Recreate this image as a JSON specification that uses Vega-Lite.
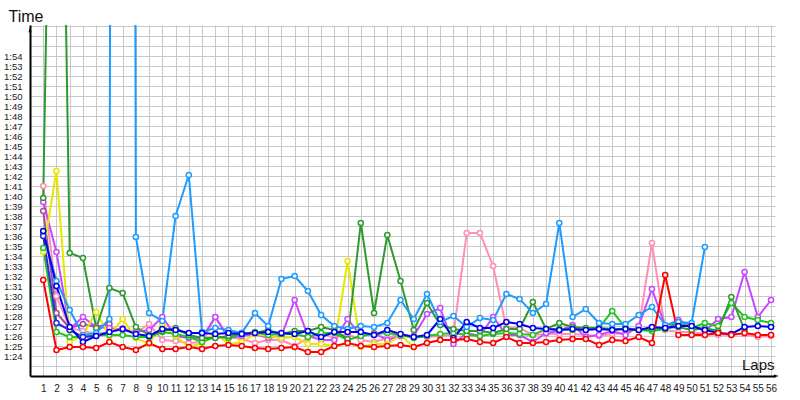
{
"$schema": "https://vega.github.io/schema/vega-lite/v6.json",
"width": 745, "height": 351,
"autosize": {"type": "none"},
"padding": {"left": 30, "top": 25, "right": 25, "bottom": 24},
"background": "white",
"config": {"view": {"stroke": null}, "font": "Liberation Sans"},
"datasets": {"laps": [
{"s":"purple","l":1,"t":98.5},{"s":"purple","l":2,"t":88.3},{"s":"purple","l":3,"t":86.8},{"s":"purple","l":4,"t":87.2},{"s":"purple","l":5,"t":86.9},{"s":"purple","l":6,"t":87.2},
{"s":"pink","l":1,"t":101.0},{"s":"pink","l":2,"t":90.0},{"s":"pink","l":3,"t":86.8},{"s":"pink","l":4,"t":86.5},{"s":"pink","l":5,"t":86.2},{"s":"pink","l":6,"t":86.4},{"s":"pink","l":7,"t":86.8},{"s":"pink","l":8,"t":86.3},{"s":"pink","l":9,"t":87.2},{"s":"pink","l":10,"t":85.6},{"s":"pink","l":11,"t":85.5},{"s":"pink","l":12,"t":85.3},{"s":"pink","l":13,"t":85.4},{"s":"pink","l":14,"t":87.9},{"s":"pink","l":15,"t":85.9},{"s":"pink","l":16,"t":85.7},{"s":"pink","l":17,"t":85.3},{"s":"pink","l":18,"t":85.6},{"s":"pink","l":19,"t":85.6},{"s":"pink","l":20,"t":85.0},{"s":"pink","l":21,"t":85.8},{"s":"pink","l":22,"t":86.3},{"s":"pink","l":23,"t":85.8},{"s":"pink","l":24,"t":86.2},{"s":"pink","l":25,"t":85.6},{"s":"pink","l":26,"t":85.4},{"s":"pink","l":27,"t":85.8},{"s":"pink","l":28,"t":86.2},{"s":"pink","l":29,"t":85.9},{"s":"pink","l":30,"t":85.9},{"s":"pink","l":31,"t":86.0},{"s":"pink","l":32,"t":86.1},{"s":"pink","l":33,"t":96.3},{"s":"pink","l":34,"t":96.3},{"s":"pink","l":35,"t":93.0},{"s":"pink","l":36,"t":86.8},{"s":"pink","l":37,"t":86.8},{"s":"pink","l":38,"t":86.1},{"s":"pink","l":39,"t":86.2},{"s":"pink","l":40,"t":86.2},{"s":"pink","l":41,"t":86.2},{"s":"pink","l":42,"t":86.1},{"s":"pink","l":43,"t":86.0},{"s":"pink","l":44,"t":86.2},{"s":"pink","l":45,"t":86.3},{"s":"pink","l":46,"t":86.8},{"s":"pink","l":47,"t":95.3},{"s":"pink","l":48,"t":86.6},{"s":"pink","l":49,"t":86.4},{"s":"pink","l":50,"t":86.4},{"s":"pink","l":51,"t":86.2},{"s":"pink","l":52,"t":86.1},{"s":"pink","l":53,"t":86.2},{"s":"pink","l":54,"t":86.2},{"s":"pink","l":55,"t":85.9},{"s":"pink","l":56,"t":86.0},
{"s":"violet","l":1,"t":99.4},{"s":"violet","l":2,"t":94.4},{"s":"violet","l":3,"t":86.7},{"s":"violet","l":4,"t":87.9},{"s":"violet","l":5,"t":86.9},{"s":"violet","l":6,"t":86.8},{"s":"violet","l":7,"t":86.6},{"s":"violet","l":8,"t":86.4},{"s":"violet","l":9,"t":86.6},{"s":"violet","l":10,"t":87.9},{"s":"violet","l":11,"t":86.0},{"s":"violet","l":12,"t":85.8},{"s":"violet","l":13,"t":85.8},{"s":"violet","l":14,"t":87.9},{"s":"violet","l":15,"t":85.8},{"s":"violet","l":16,"t":86.0},{"s":"violet","l":17,"t":86.2},{"s":"violet","l":18,"t":85.8},{"s":"violet","l":19,"t":86.0},{"s":"violet","l":20,"t":89.6},{"s":"violet","l":21,"t":86.0},{"s":"violet","l":22,"t":85.6},{"s":"violet","l":23,"t":85.6},{"s":"violet","l":24,"t":87.7},{"s":"violet","l":25,"t":86.0},{"s":"violet","l":26,"t":86.3},{"s":"violet","l":27,"t":85.6},{"s":"violet","l":28,"t":86.0},{"s":"violet","l":29,"t":86.0},{"s":"violet","l":30,"t":88.2},{"s":"violet","l":31,"t":88.8},{"s":"violet","l":32,"t":85.2},{"s":"violet","l":33,"t":86.3},{"s":"violet","l":34,"t":86.0},{"s":"violet","l":35,"t":87.9},{"s":"violet","l":36,"t":86.1},{"s":"violet","l":37,"t":86.1},{"s":"violet","l":38,"t":85.4},{"s":"violet","l":39,"t":86.3},{"s":"violet","l":40,"t":86.5},{"s":"violet","l":41,"t":87.1},{"s":"violet","l":42,"t":85.9},{"s":"violet","l":43,"t":86.1},{"s":"violet","l":44,"t":86.5},{"s":"violet","l":45,"t":86.1},{"s":"violet","l":46,"t":87.0},{"s":"violet","l":47,"t":90.7},{"s":"violet","l":48,"t":87.0},{"s":"violet","l":49,"t":87.6},{"s":"violet","l":50,"t":87.0},{"s":"violet","l":51,"t":86.5},{"s":"violet","l":52,"t":87.7},{"s":"violet","l":53,"t":87.9},{"s":"violet","l":54,"t":92.4},{"s":"violet","l":55,"t":87.9},{"s":"violet","l":56,"t":89.6},
{"s":"yellow","l":1,"t":94.4},{"s":"yellow","l":2,"t":102.5},{"s":"yellow","l":3,"t":85.4},{"s":"yellow","l":4,"t":86.1},{"s":"yellow","l":5,"t":88.4},{"s":"yellow","l":6,"t":86.0},{"s":"yellow","l":7,"t":87.7},{"s":"yellow","l":8,"t":85.8},{"s":"yellow","l":9,"t":85.2},{"s":"yellow","l":10,"t":87.2},{"s":"yellow","l":11,"t":86.0},{"s":"yellow","l":12,"t":84.9},{"s":"yellow","l":13,"t":85.3},{"s":"yellow","l":14,"t":86.3},{"s":"yellow","l":15,"t":85.2},{"s":"yellow","l":16,"t":85.4},{"s":"yellow","l":17,"t":86.2},{"s":"yellow","l":18,"t":86.0},{"s":"yellow","l":19,"t":85.8},{"s":"yellow","l":20,"t":85.9},{"s":"yellow","l":21,"t":85.2},{"s":"yellow","l":22,"t":85.2},{"s":"yellow","l":23,"t":85.0},{"s":"yellow","l":24,"t":93.5},{"s":"yellow","l":25,"t":84.9},{"s":"yellow","l":26,"t":85.2},{"s":"yellow","l":27,"t":85.2},{"s":"yellow","l":28,"t":86.1},{"s":"yellow","l":29,"t":84.9},
{"s":"green","l":1,"t":94.8},{"s":"green","l":2,"t":86.4},{"s":"green","l":3,"t":85.9},{"s":"green","l":4,"t":85.9},{"s":"green","l":5,"t":86.1},{"s":"green","l":6,"t":86.1},{"s":"green","l":7,"t":86.1},{"s":"green","l":8,"t":85.9},{"s":"green","l":9,"t":85.9},{"s":"green","l":10,"t":86.4},{"s":"green","l":11,"t":86.2},{"s":"green","l":12,"t":85.9},{"s":"green","l":13,"t":85.4},{"s":"green","l":14,"t":85.9},{"s":"green","l":15,"t":85.8},{"s":"green","l":16,"t":86.2},{"s":"green","l":17,"t":86.4},{"s":"green","l":18,"t":86.1},{"s":"green","l":19,"t":86.2},{"s":"green","l":20,"t":86.2},{"s":"green","l":21,"t":85.9},{"s":"green","l":22,"t":86.3},{"s":"green","l":23,"t":86.3},{"s":"green","l":24,"t":85.6},{"s":"green","l":25,"t":86.0},{"s":"green","l":26,"t":86.2},{"s":"green","l":27,"t":86.3},{"s":"green","l":28,"t":86.1},{"s":"green","l":29,"t":85.8},{"s":"green","l":30,"t":86.0},{"s":"green","l":31,"t":86.2},{"s":"green","l":32,"t":86.3},{"s":"green","l":33,"t":86.1},{"s":"green","l":34,"t":86.0},{"s":"green","l":35,"t":86.2},{"s":"green","l":36,"t":86.3},{"s":"green","l":37,"t":86.2},{"s":"green","l":38,"t":86.1},{"s":"green","l":39,"t":86.7},{"s":"green","l":40,"t":86.7},{"s":"green","l":41,"t":86.6},{"s":"green","l":42,"t":86.7},{"s":"green","l":43,"t":86.8},{"s":"green","l":44,"t":88.5},{"s":"green","l":45,"t":86.8},{"s":"green","l":46,"t":86.6},{"s":"green","l":47,"t":86.5},{"s":"green","l":48,"t":86.7},{"s":"green","l":49,"t":87.4},{"s":"green","l":50,"t":86.8},{"s":"green","l":51,"t":87.3},{"s":"green","l":52,"t":87.0},{"s":"green","l":53,"t":89.3},{"s":"green","l":54,"t":87.9},{"s":"green","l":55,"t":87.6},{"s":"green","l":56,"t":87.3},
{"s":"darkgreen","l":1,"t":99.8},{"s":"darkgreen","l":2,"t":177},{"s":"darkgreen","l":3,"t":94.3},{"s":"darkgreen","l":4,"t":93.8},{"s":"darkgreen","l":5,"t":86.8},{"s":"darkgreen","l":6,"t":90.8},{"s":"darkgreen","l":7,"t":90.3},{"s":"darkgreen","l":8,"t":86.9},{"s":"darkgreen","l":9,"t":86.1},{"s":"darkgreen","l":10,"t":86.5},{"s":"darkgreen","l":11,"t":86.8},{"s":"darkgreen","l":12,"t":86.1},{"s":"darkgreen","l":13,"t":85.8},{"s":"darkgreen","l":14,"t":85.8},{"s":"darkgreen","l":15,"t":86.0},{"s":"darkgreen","l":16,"t":86.3},{"s":"darkgreen","l":17,"t":86.3},{"s":"darkgreen","l":18,"t":86.6},{"s":"darkgreen","l":19,"t":86.2},{"s":"darkgreen","l":20,"t":86.5},{"s":"darkgreen","l":21,"t":86.5},{"s":"darkgreen","l":22,"t":86.9},{"s":"darkgreen","l":23,"t":86.6},{"s":"darkgreen","l":24,"t":85.7},{"s":"darkgreen","l":25,"t":97.3},{"s":"darkgreen","l":26,"t":88.3},{"s":"darkgreen","l":27,"t":96.1},{"s":"darkgreen","l":28,"t":91.5},{"s":"darkgreen","l":29,"t":86.6},{"s":"darkgreen","l":30,"t":89.3},{"s":"darkgreen","l":31,"t":87.1},{"s":"darkgreen","l":32,"t":86.7},{"s":"darkgreen","l":33,"t":86.5},{"s":"darkgreen","l":34,"t":86.5},{"s":"darkgreen","l":35,"t":86.3},{"s":"darkgreen","l":36,"t":86.7},{"s":"darkgreen","l":37,"t":86.7},{"s":"darkgreen","l":38,"t":89.4},{"s":"darkgreen","l":39,"t":86.7},{"s":"darkgreen","l":40,"t":87.3},{"s":"darkgreen","l":41,"t":86.9},{"s":"darkgreen","l":42,"t":86.8},{"s":"darkgreen","l":43,"t":86.8},{"s":"darkgreen","l":44,"t":86.7},{"s":"darkgreen","l":45,"t":86.7},{"s":"darkgreen","l":46,"t":86.6},{"s":"darkgreen","l":47,"t":86.7},{"s":"darkgreen","l":48,"t":86.8},{"s":"darkgreen","l":49,"t":86.9},{"s":"darkgreen","l":50,"t":86.6},{"s":"darkgreen","l":51,"t":86.8},{"s":"darkgreen","l":52,"t":86.5},{"s":"darkgreen","l":53,"t":89.9},{"s":"darkgreen","l":54,"t":86.6},
{"s":"lightblue","l":1,"t":96.2},{"s":"lightblue","l":2,"t":91.5},{"s":"lightblue","l":3,"t":88.6},{"s":"lightblue","l":4,"t":86.1},{"s":"lightblue","l":5,"t":86.3},{"s":"lightblue","l":6,"t":87.7},{"s":"lightblue","l":7,"t":700},{"s":"lightblue","l":8,"t":95.9},{"s":"lightblue","l":9,"t":88.3},{"s":"lightblue","l":10,"t":87.5},{"s":"lightblue","l":11,"t":98.0},{"s":"lightblue","l":12,"t":102.1},{"s":"lightblue","l":13,"t":86.4},{"s":"lightblue","l":14,"t":86.8},{"s":"lightblue","l":15,"t":86.6},{"s":"lightblue","l":16,"t":86.3},{"s":"lightblue","l":17,"t":88.3},{"s":"lightblue","l":18,"t":87.0},{"s":"lightblue","l":19,"t":91.7},{"s":"lightblue","l":20,"t":92.0},{"s":"lightblue","l":21,"t":90.5},{"s":"lightblue","l":22,"t":88.1},{"s":"lightblue","l":23,"t":87.0},{"s":"lightblue","l":24,"t":86.7},{"s":"lightblue","l":25,"t":87.0},{"s":"lightblue","l":26,"t":86.9},{"s":"lightblue","l":27,"t":87.3},{"s":"lightblue","l":28,"t":89.6},{"s":"lightblue","l":29,"t":87.7},{"s":"lightblue","l":30,"t":90.2},{"s":"lightblue","l":31,"t":87.4},{"s":"lightblue","l":32,"t":88.0},{"s":"lightblue","l":33,"t":86.9},{"s":"lightblue","l":34,"t":87.8},{"s":"lightblue","l":35,"t":87.6},{"s":"lightblue","l":36,"t":90.2},{"s":"lightblue","l":37,"t":89.7},{"s":"lightblue","l":38,"t":88.3},{"s":"lightblue","l":39,"t":89.2},{"s":"lightblue","l":40,"t":97.3},{"s":"lightblue","l":41,"t":87.9},{"s":"lightblue","l":42,"t":88.7},{"s":"lightblue","l":43,"t":87.3},{"s":"lightblue","l":44,"t":87.2},{"s":"lightblue","l":45,"t":87.2},{"s":"lightblue","l":46,"t":88.1},{"s":"lightblue","l":47,"t":88.9},{"s":"lightblue","l":48,"t":87.1},{"s":"lightblue","l":49,"t":87.4},{"s":"lightblue","l":50,"t":87.3},{"s":"lightblue","l":51,"t":94.9},
{"s":"blue2","l":1,"t":96.0},{"s":"blue2","l":2,"t":87.3},{"s":"blue2","l":3,"t":86.6},{"s":"blue2","l":4,"t":85.9},{"s":"blue2","l":5,"t":86.0},
{"s":"blue","l":1,"t":96.5},{"s":"blue","l":2,"t":91.0},{"s":"blue","l":3,"t":86.9},{"s":"blue","l":4,"t":85.4},{"s":"blue","l":5,"t":86.0},{"s":"blue","l":6,"t":86.4},{"s":"blue","l":7,"t":86.7},{"s":"blue","l":8,"t":86.2},{"s":"blue","l":9,"t":86.0},{"s":"blue","l":10,"t":86.7},{"s":"blue","l":11,"t":86.6},{"s":"blue","l":12,"t":86.3},{"s":"blue","l":13,"t":86.3},{"s":"blue","l":14,"t":86.2},{"s":"blue","l":15,"t":86.3},{"s":"blue","l":16,"t":86.2},{"s":"blue","l":17,"t":86.3},{"s":"blue","l":18,"t":86.4},{"s":"blue","l":19,"t":86.3},{"s":"blue","l":20,"t":86.2},{"s":"blue","l":21,"t":86.5},{"s":"blue","l":22,"t":85.9},{"s":"blue","l":23,"t":86.4},{"s":"blue","l":24,"t":86.4},{"s":"blue","l":25,"t":86.4},{"s":"blue","l":26,"t":86.1},{"s":"blue","l":27,"t":86.6},{"s":"blue","l":28,"t":86.2},{"s":"blue","l":29,"t":85.9},{"s":"blue","l":30,"t":86.1},{"s":"blue","l":31,"t":87.7},{"s":"blue","l":32,"t":85.8},{"s":"blue","l":33,"t":87.4},{"s":"blue","l":34,"t":86.8},{"s":"blue","l":35,"t":86.8},{"s":"blue","l":36,"t":87.4},{"s":"blue","l":37,"t":87.2},{"s":"blue","l":38,"t":86.8},{"s":"blue","l":39,"t":86.7},{"s":"blue","l":40,"t":86.6},{"s":"blue","l":41,"t":86.7},{"s":"blue","l":42,"t":86.6},{"s":"blue","l":43,"t":86.7},{"s":"blue","l":44,"t":86.6},{"s":"blue","l":45,"t":86.7},{"s":"blue","l":46,"t":86.6},{"s":"blue","l":47,"t":86.9},{"s":"blue","l":48,"t":86.8},{"s":"blue","l":49,"t":87.0},{"s":"blue","l":50,"t":87.0},{"s":"blue","l":51,"t":86.6},{"s":"blue","l":52,"t":86.3},{"s":"blue","l":53,"t":86.2},{"s":"blue","l":54,"t":86.9},{"s":"blue","l":55,"t":87.0},{"s":"blue","l":56,"t":86.9},
{"s":"red","l":1,"t":91.6},{"s":"red","l":2,"t":84.6},{"s":"red","l":3,"t":84.9},{"s":"red","l":4,"t":84.9},{"s":"red","l":5,"t":84.8},{"s":"red","l":6,"t":85.4},{"s":"red","l":7,"t":84.9},{"s":"red","l":8,"t":84.6},{"s":"red","l":9,"t":85.3},{"s":"red","l":10,"t":84.7},{"s":"red","l":11,"t":84.7},{"s":"red","l":12,"t":84.9},{"s":"red","l":13,"t":84.7},{"s":"red","l":14,"t":85.0},{"s":"red","l":15,"t":85.1},{"s":"red","l":16,"t":85.0},{"s":"red","l":17,"t":84.8},{"s":"red","l":18,"t":84.7},{"s":"red","l":19,"t":84.8},{"s":"red","l":20,"t":84.9},{"s":"red","l":21,"t":84.4},{"s":"red","l":22,"t":84.4},{"s":"red","l":23,"t":85.0},{"s":"red","l":24,"t":85.3},{"s":"red","l":25,"t":85.0},{"s":"red","l":26,"t":84.9},{"s":"red","l":27,"t":85.0},{"s":"red","l":28,"t":85.1},{"s":"red","l":29,"t":84.9},{"s":"red","l":30,"t":85.3},{"s":"red","l":31,"t":85.6},{"s":"red","l":32,"t":85.6},{"s":"red","l":33,"t":85.7},{"s":"red","l":34,"t":85.4},{"s":"red","l":35,"t":85.3},{"s":"red","l":36,"t":85.9},{"s":"red","l":37,"t":85.3},{"s":"red","l":38,"t":85.3},{"s":"red","l":39,"t":85.4},{"s":"red","l":40,"t":85.6},{"s":"red","l":41,"t":85.7},{"s":"red","l":42,"t":85.7},{"s":"red","l":43,"t":85.1},{"s":"red","l":44,"t":85.6},{"s":"red","l":45,"t":85.5},{"s":"red","l":46,"t":85.9},{"s":"red","l":47,"t":85.3},{"s":"red","l":48,"t":92.1},{"s":"red","l":49,"t":86.1},{"s":"red","l":50,"t":86.1},{"s":"red","l":51,"t":86.1},{"s":"red","l":52,"t":86.3},{"s":"red","l":53,"t":86.1},{"s":"red","l":54,"t":86.3},{"s":"red","l":55,"t":86.1},{"s":"red","l":56,"t":86.1}
]},
"layer": [
{"data": {"name": "laps"},
 "mark": {"type": "line", "strokeWidth": 2, "clip": true},
 "encoding": {
  "x": {"field": "l", "type": "quantitative", "scale": {"domain": [0, 56.3], "nice": false, "zero": false},
   "axis": {"values": [1,2,3,4,5,6,7,8,9,10,11,12,13,14,15,16,17,18,19,20,21,22,23,24,25,26,27,28,29,30,31,32,33,34,35,36,37,38,39,40,41,42,43,44,45,46,47,48,49,50,51,52,53,54,55,56],
    "tickCount": 100, "format": "d",
    "grid": true, "gridColor": "#c8c8c8", "gridWidth": 1, "ticks": false, "domainColor": "#000000", "domainWidth": 2,
    "labelFont": "Liberation Sans", "labelFontSize": 10, "labelColor": "#222222", "labelPadding": 7, "labelOverlap": false, "labelFlush": false,
    "title": "Laps", "titleX": 744, "titleY": -7, "titleAlign": "right", "titleBaseline": "alphabetic", "titleFont": "Liberation Sans", "titleFontSize": 15, "titleFontWeight": "normal", "titleColor": "#111111"}},
  "y": {"field": "t", "type": "quantitative", "scale": {"domain": [82, 117.1], "nice": false, "zero": false},
   "axis": {"values": [82,83,84,85,86,87,88,89,90,91,92,93,94,95,96,97,98,99,100,101,102,103,104,105,106,107,108,109,110,111,112,113,114,115,116,117],
    "tickCount": 100,
    "grid": true, "gridColor": "#c8c8c8", "gridWidth": 1, "ticks": false, "domainColor": "#000000", "domainWidth": 2,
    "labelExpr": "datum.value >= 84 && datum.value <= 114 ? '1:' + (datum.value - 60) : ''",
    "labelFont": "Liberation Sans", "labelFontSize": 9.5, "labelColor": "#222222", "labelPadding": 8, "labelOverlap": false,
    "title": "Time", "titleAngle": 0, "titleX": -22, "titleY": -4, "titleAlign": "left", "titleBaseline": "alphabetic", "titleFont": "Liberation Sans", "titleFontSize": 16, "titleFontWeight": "normal", "titleColor": "#111111"}},
  "color": {"field": "s", "type": "nominal", "legend": null,
   "scale": {"domain": ["purple","pink","violet","yellow","green","darkgreen","lightblue","blue2","blue","red"],
    "range": ["#a050a0","#ff8fb4","#c848ff","#e6e600","#22c422","#2e9a2e","#1e9bff","#2a2ad8","#0000f0","#ff0000"]}}
 }},
{"data": {"name": "laps"},
 "mark": {"type": "point", "shape": "circle", "filled": false, "fill": "white", "fillOpacity": 1, "opacity": 1, "size": 26, "strokeWidth": 1.5, "clip": true},
 "encoding": {
  "x": {"field": "l", "type": "quantitative"},
  "y": {"field": "t", "type": "quantitative"},
  "color": {"field": "s", "type": "nominal", "legend": null}
 }},
{"data": {"values": [{}]},
 "mark": {"type": "point", "shape": "M0,-0.5L0.33,0.5L-0.33,0.5Z", "filled": true, "color": "#000000", "opacity": 1, "size": 90, "clip": false},
 "encoding": {"x": {"datum": 0}, "y": {"datum": 116.6}}},
{"data": {"values": [{}]},
 "mark": {"type": "point", "shape": "M0.5,0L-0.5,0.33L-0.5,-0.33Z", "filled": true, "color": "#000000", "opacity": 1, "size": 90, "clip": false},
 "encoding": {"x": {"datum": 56.4}, "y": {"datum": 82}}}
]
}
